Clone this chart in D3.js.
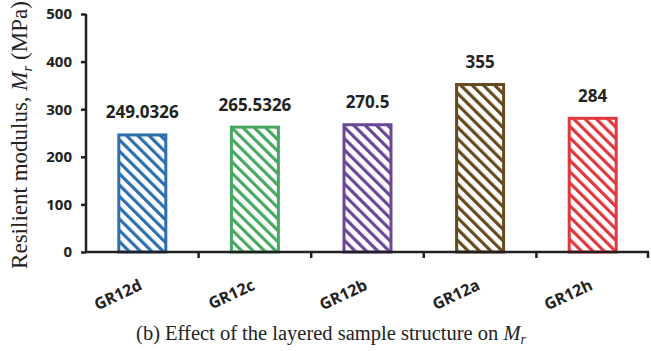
<!DOCTYPE html>
<html>
<head>
<meta charset="utf-8">
<script src="https://cdn.jsdelivr.net/npm/d3@7"></script>
<style>
  body { margin: 0; background: #fff; }
</style>
</head>
<body>
<svg id="chart" width="651" height="351"></svg>
<script>
const categories = ["GR12d", "GR12c", "GR12b", "GR12a", "GR12h"];
const values = [249.0326, 265.5326, 270.5, 355, 284];
const valueLabels = ["249.0326", "265.5326", "270.5", "355", "284"];
const colors = ["#2e6fad", "#48a862", "#6b4797", "#664a20", "#e0383f"];
const yTicks = [0, 100, 200, 300, 400, 500];

const svg = d3.select("#chart");
const margin = { top: 14, right: 2, bottom: 99, left: 86 };
const width = 651, height = 351;

const x = d3.scaleBand()
    .domain(categories)
    .range([margin.left, width - margin.right])
    .paddingInner(0.556)
    .paddingOuter(0.278);

const y = d3.scaleLinear()
    .domain([0, 500])
    .range([height - margin.bottom, margin.top]);

// hatch patterns, stripes running top-left to bottom-right
const defs = svg.append("defs");
colors.forEach((c, i) => {
    const p = defs.append("pattern")
        .attr("id", "hatch" + i)
        .attr("patternUnits", "userSpaceOnUse")
        .attr("width", 8)
        .attr("height", 8)
        .attr("patternTransform", "rotate(-45)");
    p.append("rect").attr("width", 8).attr("height", 8).attr("fill", "#fff");
    p.append("rect").attr("x", 0).attr("y", 0).attr("width", 3.2).attr("height", 8).attr("fill", c);
});

// bars
const bars = svg.append("g");
bars.selectAll("rect")
    .data(values)
    .join("rect")
    .attr("x", (d, i) => x(categories[i]) + 1.5)
    .attr("y", d => y(d) + 1.5)
    .attr("width", x.bandwidth() - 3)
    .attr("height", d => y(0) - y(d) - 1.5)
    .attr("fill", (d, i) => "url(#hatch" + i + ")")
    .attr("stroke", (d, i) => colors[i])
    .attr("stroke-width", 3);

// value labels
svg.append("g").selectAll("text")
    .data(values)
    .join("text")
    .attr("x", (d, i) => x(categories[i]) + x.bandwidth() / 2)
    .attr("y", d => y(d) - 15)
    .attr("text-anchor", "middle")
    .attr("font-family", "'Open Sans', sans-serif")
    .attr("font-weight", "bold")
    .attr("font-size", 17)
    .attr("fill", "#222")
    .text((d, i) => valueLabels[i]);

// y axis
const yAxis = svg.append("g")
    .attr("transform", "translate(" + margin.left + ",0)")
    .call(d3.axisLeft(y).tickValues(yTicks).tickSize(5).tickPadding(9));
yAxis.select(".domain").attr("stroke", "#231f20").attr("stroke-width", 2.5)
    .attr("d", "M0," + y(500) + "V" + y(0));
yAxis.selectAll(".tick line").attr("stroke", "#231f20").attr("stroke-width", 2.5);
yAxis.selectAll(".tick text")
    .attr("font-family", "'Open Sans', sans-serif")
    .attr("font-weight", "bold")
    .attr("font-size", 15)
    .attr("fill", "#222");

// x axis
const bounds = [margin.left];
categories.forEach(c => bounds.push(x(c) + x.bandwidth() + x.step() * x.paddingInner() / 2));
const xAxis = svg.append("g").attr("transform", "translate(0," + y(0) + ")");
xAxis.append("line")
    .attr("x1", margin.left - 1).attr("x2", width - margin.right)
    .attr("stroke", "#231f20").attr("stroke-width", 2.5);
xAxis.selectAll("line.tk")
    .data(bounds.slice(1))
    .join("line")
    .attr("class", "tk")
    .attr("x1", d => Math.min(d, width - 3)).attr("x2", d => Math.min(d, width - 3))
    .attr("y1", 0).attr("y2", 6)
    .attr("stroke", "#231f20").attr("stroke-width", 2.5);

xAxis.selectAll("text")
    .data(categories)
    .join("text")
    .attr("transform", d => "translate(" + (x(d) + x.bandwidth() / 2 + 1) + ",37) rotate(-25)")
    .attr("text-anchor", "end")
    .attr("font-family", "'Open Sans', sans-serif")
    .attr("font-weight", "bold")
    .attr("font-size", 16)
    .attr("fill", "#222")
    .text(d => d);

// y title
const yt = svg.append("text")
    .attr("transform", "translate(27," + ((y(0) + y(500)) / 2 + 2) + ") rotate(-90)")
    .attr("text-anchor", "middle")
    .attr("font-family", "'Liberation Serif', 'Times New Roman', serif")
    .attr("font-size", 23)
    .attr("fill", "#222");
yt.append("tspan").text("Resilient modulus, ");
yt.append("tspan").attr("font-style", "italic").text("M");
yt.append("tspan").attr("font-style", "italic").attr("font-size", 15).attr("dy", 5).text("r");
yt.append("tspan").attr("dy", -5).text(" (MPa)");

// caption
const cap = svg.append("text")
    .attr("x", 331)
    .attr("y", 340)
    .attr("text-anchor", "middle")
    .attr("font-family", "'Liberation Serif', 'Times New Roman', serif")
    .attr("font-size", 20.5)
    .attr("fill", "#222");
cap.append("tspan").text("(b) Effect of the layered sample structure on ");
cap.append("tspan").attr("font-style", "italic").text("M");
cap.append("tspan").attr("font-style", "italic").attr("font-size", 14).attr("dy", 4).text("r");
</script>
</body>
</html>
